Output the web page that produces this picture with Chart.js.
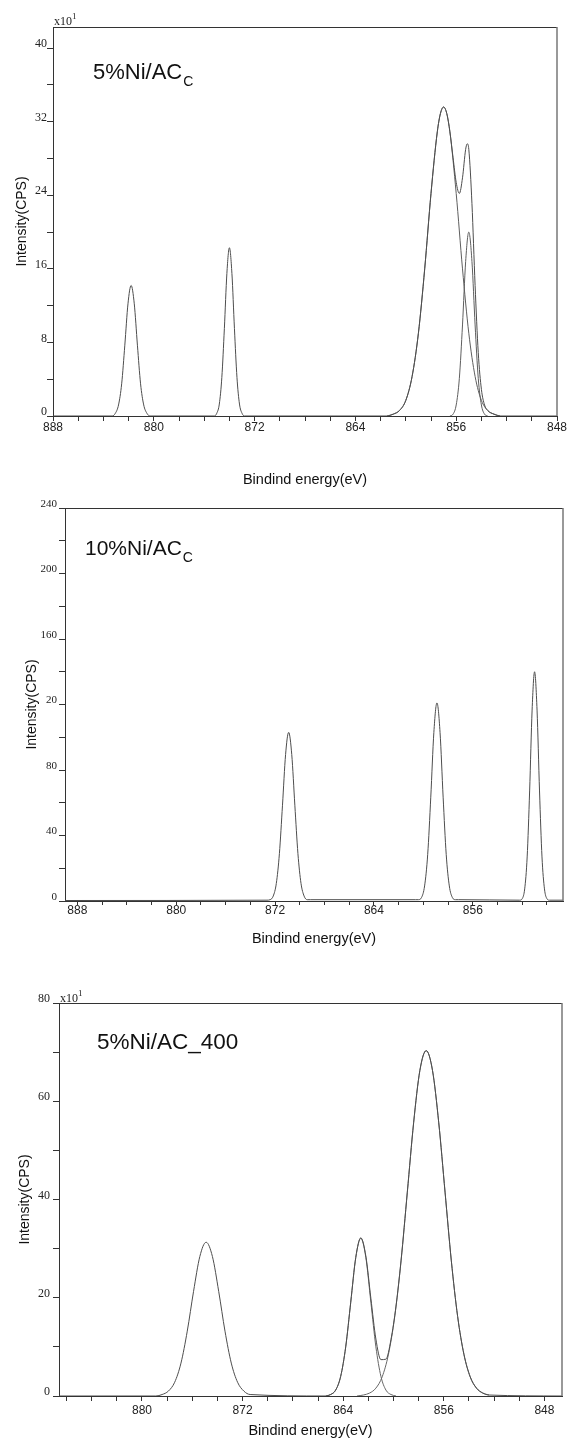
<!DOCTYPE html>
<html>
<head>
<meta charset="utf-8">
<script src="https://cdn.jsdelivr.net/npm/chart.js@4.4.0/dist/chart.umd.min.js"></script>
<style>
  html, body { margin: 0; padding: 0; background: #fff; }
  body { width: 568px; height: 1438px; position: relative; overflow: hidden; }
  canvas { position: absolute; left: 0; }
</style>
</head>
<body>
<canvas id="xps-1" width="568" height="495" style="top:0px"></canvas>
<canvas id="xps-2" width="568" height="480" style="top:480px"></canvas>
<canvas id="xps-3" width="568" height="500" style="top:950px"></canvas>
<script>
// ---- panel 1: 5%Ni/AC_C (intensity x10^1) ----
const p1XLabels = [888, 880, 872, 864, 856, 848];
const p1YLabels = [0, 8, 16, 24, 32, 40];
const p1SpecX = [848, 852.5, 853.0, 853.5, 853.75, 854.0, 854.25, 854.5, 854.75, 855.0, 855.12, 855.25, 855.5, 855.75, 856.0, 856.25, 856.5, 856.75, 857.0, 857.25, 857.5, 858.0, 858.5, 859.0, 859.5, 860.0, 860.5, 861.0, 861.5,
  872.8, 873.0, 873.2, 873.4, 873.6, 873.8, 874.0, 874.2, 874.4, 874.6, 874.8, 875.0, 875.2,
  880.3, 880.55, 880.8, 881.05, 881.3, 881.55, 881.8, 882.05, 882.3, 882.55, 882.8, 883.05, 883.3, 888];
const p1SpecY = [0, 0, 0.2, 0.6, 1.2, 2.9, 6.9, 14.2, 23.1, 29.0, 29.6, 29.0, 25.9, 24.2, 25.4, 28.1, 30.9, 32.9, 33.6, 32.9, 30.9, 24.2, 16.0, 9.0, 4.3, 1.7, 0.6, 0.2, 0,
  0, 0.3, 1.3, 4.2, 9.5, 15.5, 18.3, 15.5, 9.5, 4.2, 1.3, 0.3, 0,
  0, 0.3, 1.2, 3.5, 7.7, 12.2, 14.2, 12.2, 7.7, 3.5, 1.2, 0.3, 0, 0];
const p1BroadX = [852.5, 853.0, 853.5, 854.0, 854.5, 855.0, 855.5, 856.0, 856.5, 856.75, 857.0, 857.25, 857.5, 858.0, 858.5, 859.0, 859.5, 860.0, 860.5, 861.0, 861.5];
const p1BroadY = [0, 0.2, 0.6, 1.7, 4.3, 9.0, 16.0, 24.2, 30.9, 32.9, 33.6, 32.9, 30.9, 24.2, 16.0, 9.0, 4.3, 1.7, 0.6, 0.2, 0];
const p1NarrowX = [853.5, 853.75, 854.0, 854.25, 854.5, 854.75, 855.0, 855.25, 855.5, 855.75, 856.0, 856.25, 856.5];
const p1NarrowY = [0, 0.2, 1.2, 4.1, 9.9, 16.8, 20.0, 16.8, 9.9, 4.1, 1.2, 0.2, 0];

// ---- panel 2: 10%Ni/AC_C ----
const p2XLabels = [888, 880, 872, 864, 856];
const p2YValues = [0, 40, 80, 120, 160, 200, 240];
const p2YText = ['0', '40', '80', '20', '160', '200', '240'];
const p2SpecX = [848.7, 849.8, 850.0, 850.2, 850.4, 850.6, 850.8, 851.0, 851.2, 851.4, 851.6, 851.8, 852.0, 852.2,
  857.15, 857.4, 857.65, 857.9, 858.15, 858.4, 858.65, 858.9, 859.15, 859.4, 859.65, 859.9, 860.15, 860.4, 860.65,
  869.15, 869.4, 869.65, 869.9, 870.15, 870.4, 870.65, 870.9, 871.15, 871.4, 871.65, 871.9, 872.15, 872.4, 872.65, 889];
const p2SpecY = [0.5, 0.5, 1.4, 7.4, 26.9, 67.2, 116.6, 140, 116.6, 67.2, 26.9, 7.4, 1.4, 0.5,
  0.8, 0.8, 2.1, 9.2, 28.3, 63.4, 103, 121, 103, 63.4, 28.3, 9.2, 2.1, 0.8, 0.8,
  0.8, 0.8, 3.0, 10.7, 28.9, 58.5, 89.4, 103, 89.4, 58.5, 28.9, 10.7, 3.0, 0.8, 0.5, 0.3];

// ---- panel 3: 5%Ni/AC_400 (intensity x10^1) ----
const p3XLabels = [880, 872, 864, 856, 848];
const p3YLabels = [0, 20, 40, 60, 80];
const p3SpecX = [846.6, 852.4, 852.9, 853.4, 853.9, 854.4, 854.9, 855.4, 855.9, 856.4, 856.9, 857.4, 857.9, 858.4, 858.9, 859.4,
  859.8, 860.2, 860.6, 861.0, 861.4, 861.8, 862.2, 862.6, 863.0, 863.4, 863.8, 864.2, 864.6, 865.0, 865.4,
  871.4, 871.9, 872.4, 872.9, 873.4, 873.9, 874.4, 874.9, 875.4, 875.9, 876.4, 876.9, 877.4, 877.9, 878.4, 878.9, 886.6];
const p3SpecY = [0, 0.2, 0.6, 1.6, 3.9, 8.5, 16.2, 27.5, 41.5, 55.6, 66.3, 70.3, 66.3, 55.6, 41.5, 27.5,
  18.3, 11.5, 7.5, 7.4, 11.6, 19.9, 28.5, 32.2, 28.2, 19.1, 10.0, 4.0, 1.2, 0.3, 0,
  0.3, 1.0, 2.8, 6.7, 13.2, 21.3, 28.4, 31.3, 28.4, 21.3, 13.2, 6.7, 2.8, 1.0, 0.3, 0, 0];
const p3SatX = [859.8, 860.2, 860.6, 861.0, 861.4, 861.8, 862.2, 862.6, 863.0, 863.4, 863.8, 864.2, 864.6, 865.0, 865.4];
const p3SatY = [0, 0.3, 1.2, 4.0, 10.0, 19.1, 28.2, 32.1, 28.2, 19.1, 10.0, 4.0, 1.2, 0.3, 0];
const p3MainX = [852.4, 852.9, 853.4, 853.9, 854.4, 854.9, 855.4, 855.9, 856.4, 856.9, 857.4, 857.9, 858.4, 858.9, 859.4, 859.9, 860.4, 860.9, 861.4, 861.9, 862.4, 862.9];
const p3MainY = [0.2, 0.6, 1.6, 3.9, 8.5, 16.2, 27.5, 41.5, 55.6, 66.3, 70.3, 66.3, 55.6, 41.5, 27.5, 16.2, 8.5, 3.9, 1.6, 0.6, 0.2, 0];

const SANS = '"Liberation Sans", Arial, sans-serif';
const SERIF = '"Liberation Serif", "Times New Roman", serif';

function points(xs, ys) {
  return xs.map((x, i) => ({ x, y: ys[i] }));
}

// box top/right edges, sample name and the x10^1 multiplier
const frameAndLabels = {
  id: 'frameAndLabels',
  afterDraw(chart) {
    const o = chart.options.plugins.frameAndLabels;
    const { ctx, chartArea: a } = chart;
    ctx.save();
    ctx.strokeStyle = '#333';
    ctx.lineWidth = 1;
    ctx.beginPath();
    ctx.moveTo(a.left, a.top + 0.5);
    ctx.lineTo(a.right, a.top + 0.5);
    ctx.stroke();
    ctx.strokeStyle = '#777';
    ctx.lineWidth = 1.5;
    ctx.beginPath();
    ctx.moveTo(a.right, a.top);
    ctx.lineTo(a.right, a.bottom);
    ctx.stroke();

    ctx.fillStyle = '#111';
    ctx.textBaseline = 'alphabetic';
    ctx.textAlign = 'left';
    ctx.font = `${o.nameSize}px ${SANS}`;
    ctx.fillText(o.name, o.nameX, o.nameY);
    if (o.sub) {
      const w = ctx.measureText(o.name).width;
      ctx.font = `${o.subSize}px ${SANS}`;
      ctx.fillText(o.sub, o.nameX + w + 1, o.nameY + o.subDrop);
    }
    if (o.expX != null) {
      ctx.fillStyle = '#222';
      ctx.font = `12px ${SERIF}`;
      ctx.fillText('x10', o.expX, o.expY);
      const w = ctx.measureText('x10').width;
      ctx.font = `9px ${SERIF}`;
      ctx.fillText('1', o.expX + w, o.expY - 6);
    }
    ctx.restore();
  },
};

function buildChart(cfg) {
  const canvas = document.getElementById(cfg.id);
  const W = canvas.width;
  const H = canvas.height;
  const top = cfg.canvasTop;
  const area = cfg.area;
  const rel = (y) => y - top;

  const xTicks = [];
  for (let v = Math.ceil(cfg.xMin / 2) * 2; v <= cfg.xMax; v += 2) xTicks.push(v);
  const yTicks = [];
  for (let v = 0; v <= cfg.yMax + 1e-9; v += cfg.yMinor) yTicks.push(v);

  new Chart(canvas, {
    type: 'line',
    data: {
      datasets: cfg.series.map((s) => ({
        data: points(s.x, s.y),
        borderColor: s.color,
        borderWidth: 1,
        pointRadius: 0,
        fill: false,
        cubicInterpolationMode: 'monotone',
      })),
    },
    options: {
      responsive: false,
      animation: false,
      devicePixelRatio: 1,
      layout: { padding: { left: 0, top: rel(area.top), right: W - area.right, bottom: 0 } },
      plugins: {
        legend: { display: false },
        tooltip: { enabled: false },
        frameAndLabels: {
          name: cfg.name, nameSize: cfg.nameSize, nameX: cfg.nameX, nameY: rel(cfg.nameY),
          sub: cfg.sub, subSize: cfg.subSize, subDrop: cfg.subDrop,
          expX: cfg.expX, expY: cfg.expY == null ? null : rel(cfg.expY),
        },
      },
      scales: {
        x: {
          type: 'linear',
          reverse: true,
          min: cfg.xMin,
          max: cfg.xMax,
          afterBuildTicks: (s) => { s.ticks = xTicks.map((value) => ({ value })); },
          afterFit: (s) => { s.height = H - rel(area.bottom); },
          ticks: {
            autoSkip: false,
            maxRotation: 0,
            padding: cfg.xTickPad,
            color: '#222',
            font: { family: SANS, size: 12 },
            callback: (v) => (cfg.xLabels.includes(v) ? String(v) : ''),
          },
          grid: { drawOnChartArea: false, tickLength: cfg.xTickLen, tickColor: '#333' },
          border: { color: '#333', width: 1 },
          title: {
            display: true,
            text: 'Bindind energy(eV)',
            color: '#111',
            font: { family: SANS, size: 14.5 },
            padding: { top: 0, bottom: H - rel(cfg.xTitleY) - 8.7 },
          },
        },
        y: {
          type: 'linear',
          min: 0,
          max: cfg.yMax,
          afterBuildTicks: (s) => { s.ticks = yTicks.map((value) => ({ value })); },
          afterFit: (s) => { s.width = area.left; },
          ticks: {
            autoSkip: false,
            padding: cfg.yTickPad,
            labelOffset: -4,
            color: '#222',
            font: { family: SERIF, size: cfg.yFont },
            callback: (v) => {
              const i = cfg.yLabelValues.findIndex((m) => Math.abs(m - v) < 1e-6);
              return i < 0 ? '' : cfg.yLabelText[i];
            },
          },
          grid: { drawOnChartArea: false, tickLength: 6, tickColor: '#333' },
          border: { color: '#333', width: 1 },
          title: {
            display: true,
            text: 'Intensity(CPS)',
            color: '#111',
            font: { family: SANS, size: 14 },
            padding: { top: cfg.yTitleX - 8.4, bottom: 0 },
          },
        },
      },
    },
    plugins: [frameAndLabels],
  });
}

buildChart({
  id: 'xps-1', canvasTop: 0,
  area: { left: 53, top: 27, right: 557, bottom: 416 },
  xMin: 848, xMax: 888, xLabels: p1XLabels, xTickLen: 5, xTickPad: -1, xTitleY: 480,
  yMax: 42.3, yMinor: 4, yLabelValues: p1YLabels, yLabelText: p1YLabels.map(String), yTickPad: 0, yFont: 12, yTitleX: 22,
  name: '5%Ni/AC', nameSize: 22, nameX: 93, nameY: 79, sub: 'C', subSize: 14, subDrop: 7,
  expX: 54, expY: 25,
  series: [
    { x: p1SpecX, y: p1SpecY, color: '#4d4d4d' },
    { x: p1BroadX, y: p1BroadY, color: '#5e5e5e' },
    { x: p1NarrowX, y: p1NarrowY, color: '#5e5e5e' },
  ],
});

buildChart({
  id: 'xps-2', canvasTop: 480,
  area: { left: 65, top: 508, right: 563, bottom: 901 },
  xMin: 848.7, xMax: 889, xLabels: p2XLabels, xTickLen: 4, xTickPad: -2, xTitleY: 939,
  yMax: 240, yMinor: 20, yLabelValues: p2YValues, yLabelText: p2YText, yTickPad: 2, yFont: 11, yTitleX: 32,
  name: '10%Ni/AC', nameSize: 21, nameX: 85, nameY: 555, sub: 'C', subSize: 14, subDrop: 7,
  expX: null, expY: null,
  series: [
    { x: p2SpecX, y: p2SpecY, color: '#4d4d4d' },
  ],
});

buildChart({
  id: 'xps-3', canvasTop: 950,
  area: { left: 59, top: 1003, right: 562, bottom: 1396 },
  xMin: 846.6, xMax: 886.6, xLabels: p3XLabels, xTickLen: 5, xTickPad: 2, xTitleY: 1431,
  yMax: 80, yMinor: 10, yLabelValues: p3YLabels, yLabelText: p3YLabels.map(String), yTickPad: 3, yFont: 12, yTitleX: 25,
  name: '5%Ni/AC_400', nameSize: 22.5, nameX: 97, nameY: 1049, sub: null,
  expX: 60, expY: 1002,
  series: [
    { x: p3SpecX, y: p3SpecY, color: '#4d4d4d' },
    { x: p3SatX, y: p3SatY, color: '#666' },
    { x: p3MainX, y: p3MainY, color: '#666' },
  ],
});
</script>
</body>
</html>
